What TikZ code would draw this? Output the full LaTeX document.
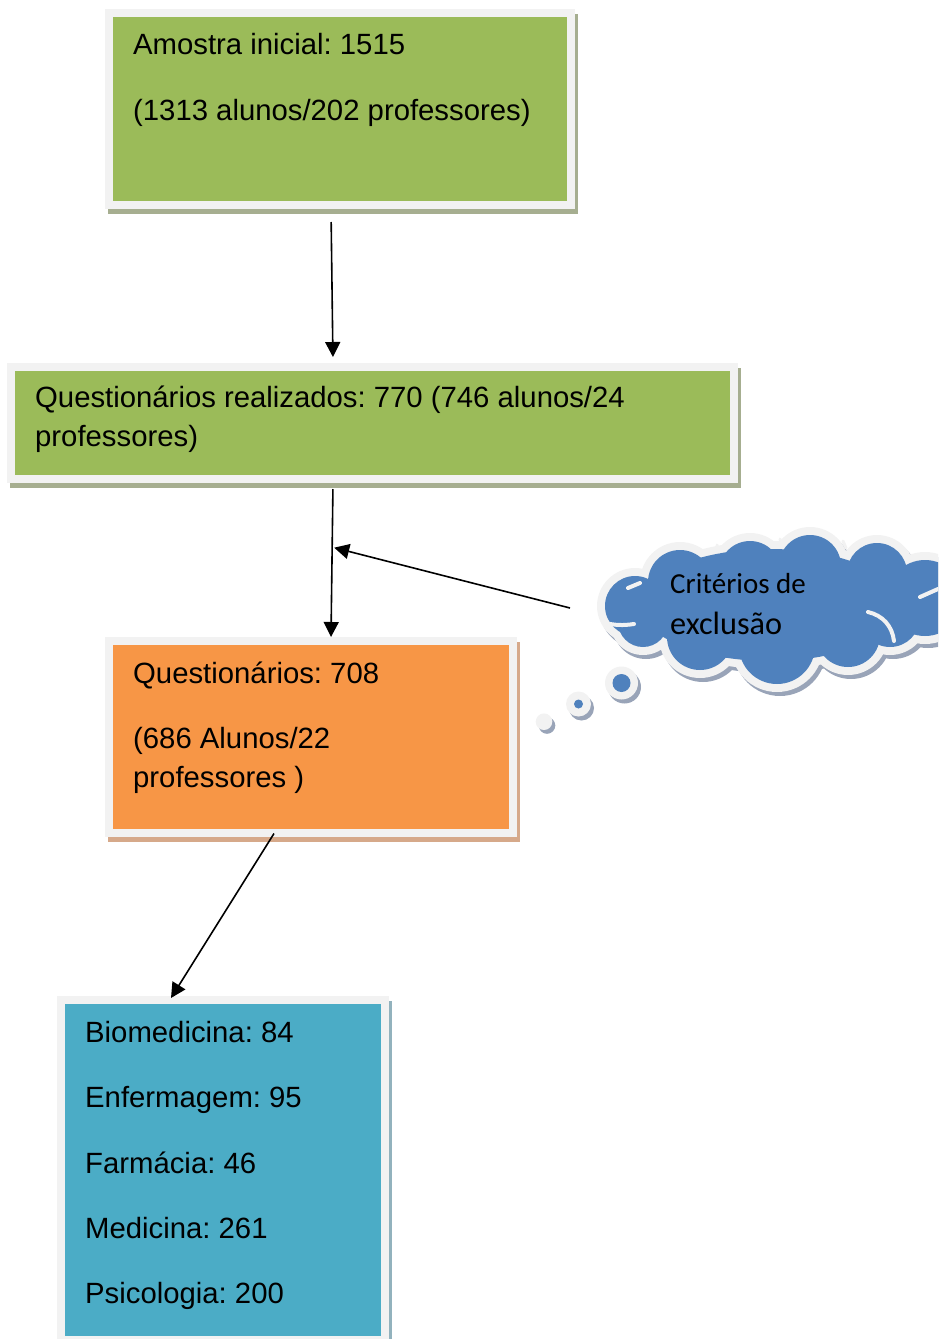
\documentclass[tikz,border=0pt]{standalone}
\usepackage{fontspec}
\setmainfont{Liberation Sans}
\newfontfamily\cloudfont{Carlito}
\usetikzlibrary{arrows.meta}
\definecolor{bgreen}{HTML}{9BBB59}
\definecolor{borange}{HTML}{F79646}
\definecolor{bteal}{HTML}{4BACC6}
\definecolor{bblue}{HTML}{4F81BD}
\definecolor{bframe}{HTML}{F2F2F2}
\definecolor{shgreen}{HTML}{A6AE90}
\definecolor{shorange}{HTML}{D6A98A}
\definecolor{shteal}{HTML}{92B2BD}
\definecolor{shblue}{HTML}{99A4B8}
\frenchspacing
\begin{document}
\begin{tikzpicture}[x=1pt,y=-1pt,
  boxnode/.style={draw=bframe, line width=8pt, inner sep=0pt},
  txt/.style={anchor=base west, inner sep=0pt, font=\fontsize{29.3}{35}\selectfont},
  ctxt/.style={anchor=base west, inner sep=0pt, font=\cloudfont\fontsize{29}{35}\selectfont},
  arr/.style={line width=1.6pt, -{Triangle[length=15pt,width=15pt]}}]
\useasboundingbox (0,0) rectangle (938,1339);
\clip (0,0) rectangle (938,1339);
% shadows
\fill[shgreen] (108,14) rectangle (578,214);
\fill[shgreen] (10,368) rectangle (741,488);
\fill[shorange] (108,642) rectangle (520,842);
\fill[shteal] (60,1001) rectangle (392,1350);
% boxes
\node[boxnode, fill=bgreen, minimum width=462pt, minimum height=192pt] (b1) at (340,109) {};
\node[boxnode, fill=bgreen, minimum width=723pt, minimum height=112pt] (b2) at (372.5,423) {};
\node[boxnode, fill=borange, minimum width=404pt, minimum height=191.5pt] (b3) at (311,736.75) {};
\node[boxnode, fill=bteal, minimum width=324pt, minimum height=340pt] (b4) at (223,1170) {};
% texts
\node[txt] (t1a) at (133,54) {Amostra inicial: 1515};
\node[txt] (t1b) at (133,120) {(1313 alunos/202 professores)};
\node[txt] (t2a) at (35,407) {Questionários realizados: 770 (746 alunos/24};
\node[txt] (t2b) at (35,446) {professores)};
\node[txt] (t3a) at (133,683) {Questionários: 708};
\node[txt] (t3b) at (133,748) {(686 Alunos/22};
\node[txt] (t3c) at (133,787) {professores )};
\node[txt] (t4a) at (85,1042) {Biomedicina: 84};
\node[txt] (t4b) at (85,1107) {Enfermagem: 95};
\node[txt] (t4c) at (85,1173) {Farmácia: 46};
\node[txt] (t4d) at (85,1238) {Medicina: 261};
\node[txt] (t4e) at (85,1303) {Psicologia: 200};
% cloud
\def\puffs{635/606/30, 680/582/32, 750/572/31, 810/566/31, 877/573/30, 925/598/38, 890/617/30, 848/635/32, 777/646/38, 700/637/33, 643/622/25}
\foreach \cx/\cy/\r in \puffs {\fill[shblue] (\cx+3,\cy+4) circle[radius=\r pt+8pt];}
\fill[shblue] (773,609) ellipse[x radius=138pt, y radius=64pt];
\foreach \cx/\cy/\r in \puffs {\fill[bframe] (\cx,\cy) circle[radius=\r pt+8pt];}
\fill[bframe] (770,605) ellipse[x radius=138pt, y radius=64pt];
\foreach \cx/\cy/\r in \puffs {\fill[bblue] (\cx,\cy) circle[radius=\r pt];}
\fill[bblue] (770,605) ellipse[x radius=130pt, y radius=56pt];
% inner puff arcs
\draw[bframe, line width=4pt, line cap=round] (605,623) to[bend right=10] (634,624);
\draw[bframe, line width=4pt, line cap=round] (628,588) -- (640,583);
\draw[bframe, line width=4pt, line cap=round] (868,612) to[bend left=35] (894,641);
\draw[bframe, line width=4pt, line cap=round] (920,597) -- (938,589);
\draw[bframe, line width=3pt, line cap=round] (717,545) -- (719,552);
\draw[bframe, line width=3pt, line cap=round] (780,539) -- (782,546);
\draw[bframe, line width=3pt, line cap=round] (843,541) -- (846,548);
\draw[bframe, line width=3pt, line cap=round] (823,658) -- (826,666);
\node[ctxt] (c1) at (670,593) {Critérios de};
\node[ctxt, font=\cloudfont\fontsize{32.3}{38}\selectfont] (c2) at (670,634) {exclusão};
% thought dots
\fill[shblue] (624.5,687) circle[radius=16.5pt];
\fill[bframe] (621.5,683) circle[radius=16.5pt];
\fill[bblue] (621.5,683) circle[radius=9pt];
\fill[shblue] (581.5,708) circle[radius=12.5pt];
\fill[bframe] (578.5,704) circle[radius=12.5pt];
\fill[bblue] (578.5,704) circle[radius=4.5pt];
\fill[shblue] (547,725.5) circle[radius=8.3pt];
\fill[bframe] (544,721.7) circle[radius=8.3pt];
% connectors
\coordinate (cloudtail) at (570,608);
\draw[arr, shorten <=13pt, shorten >=6pt] ([xshift=-9pt]b1.south) -- ([xshift=-39.5pt]b2.north);
\draw[arr, shorten <=6pt] ([xshift=-39.5pt]b2.south) -- coordinate[pos=0.42] (junction) ([xshift=20pt]b3.north);
\draw[arr] (cloudtail) -- ([xshift=2pt]junction);
\draw[arr] ([xshift=-37pt,yshift=3pt]b3.south) -- ([xshift=-52pt,yshift=-2pt]b4.north);
\end{tikzpicture}
\end{document}
